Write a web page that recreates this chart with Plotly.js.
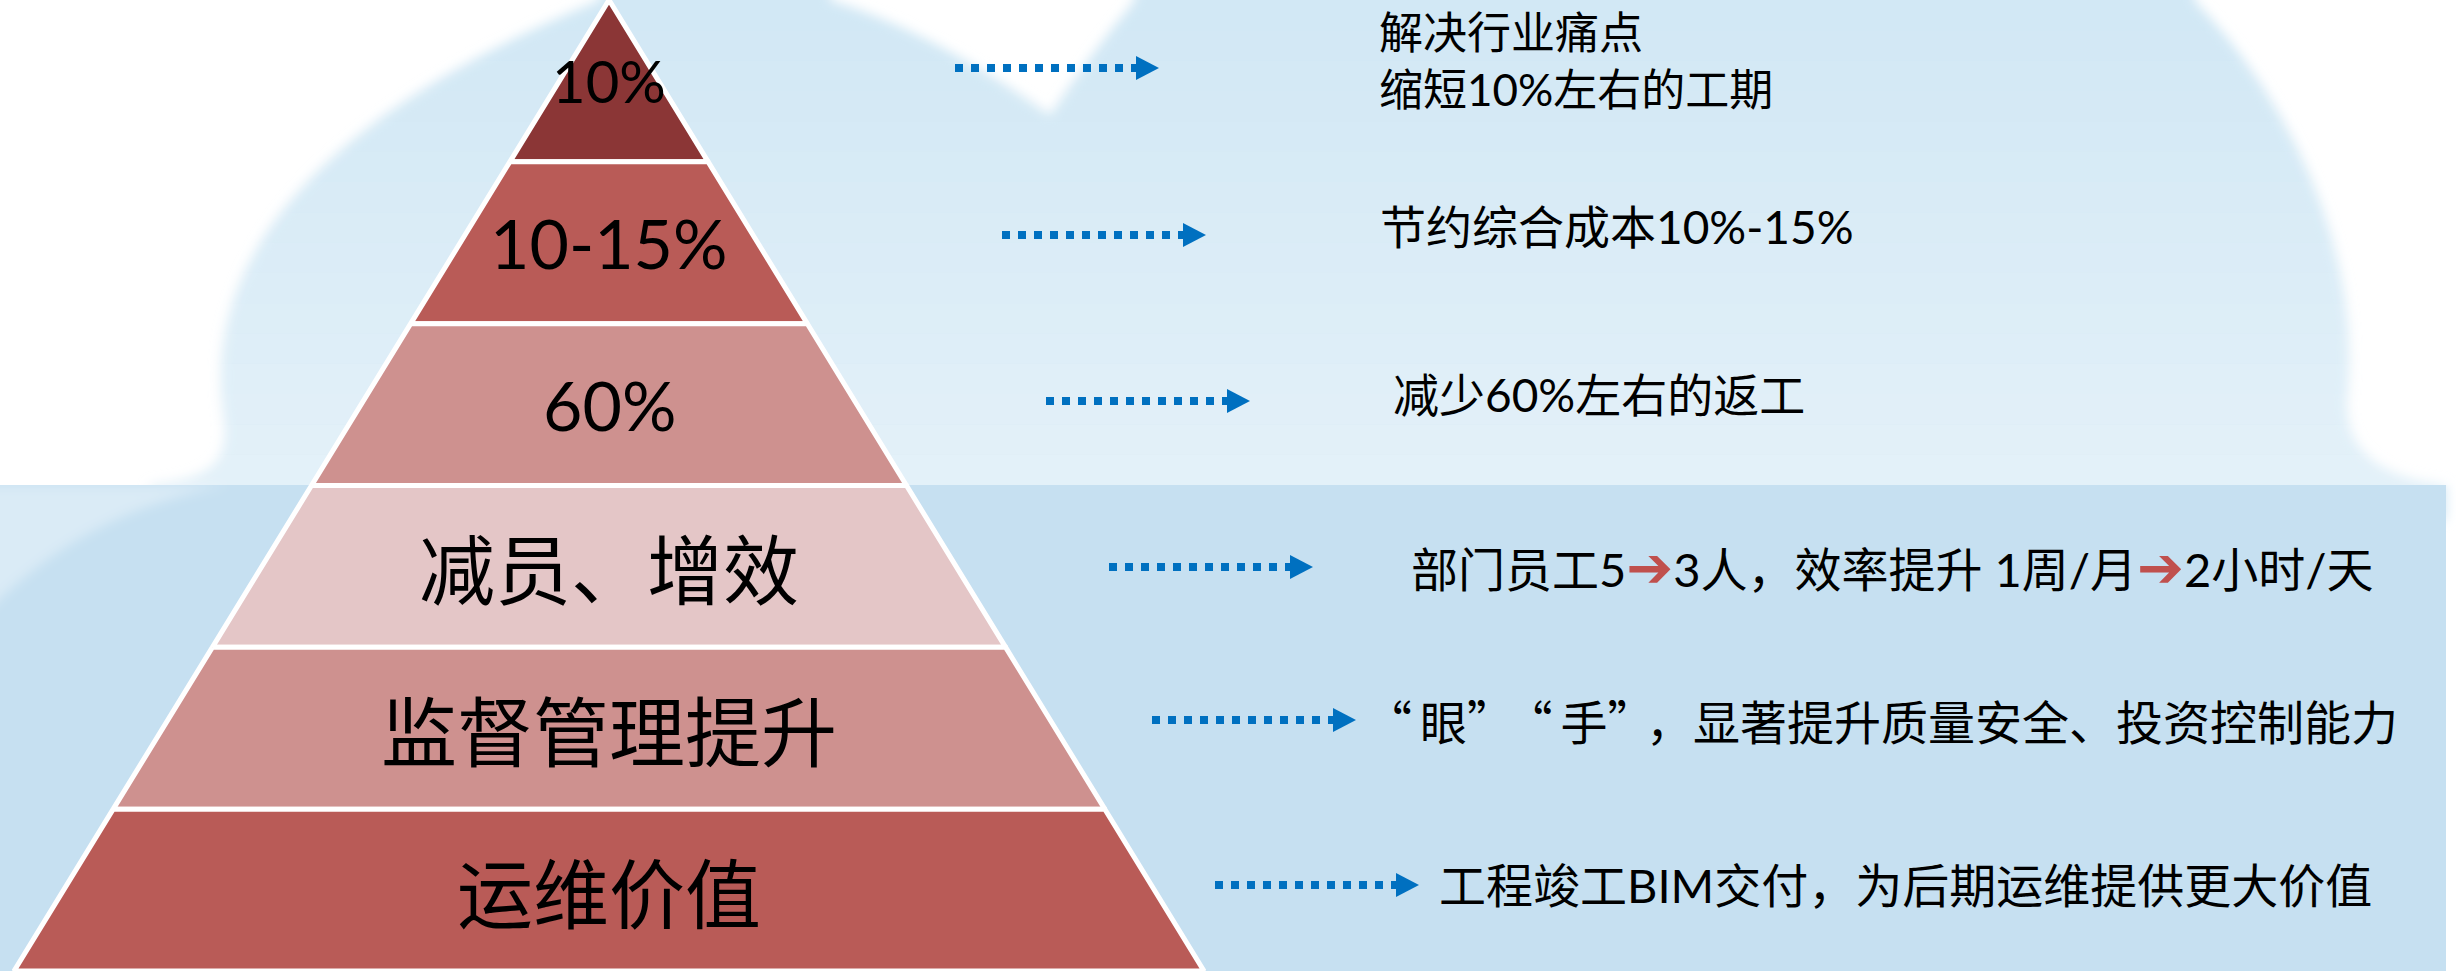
<!DOCTYPE html>
<html>
<head>
<meta charset="utf-8">
<script src="https://cdn.plot.ly/plotly-3.0.1.min.js"></script>
<style>
  html, body { margin: 0; padding: 0; background: #ffffff; overflow: hidden; }
  #chart { width: 2456px; height: 971px; }
</style>
</head>
<body>
<div id="chart"></div>
<script>
// ---------------- data ----------------
const levelLabels = ['10%', '10-15%', '60%', '减员、增效', '监督管理提升', '运维价值'];
const benefitTexts = [
  '解决行业痛点<br>缩短10%左右的工期',
  '节约综合成本10%-15%',
  '减少60%左右的返工',
  '部门员工5→3人，效率提升 1周/月→2小时/天',
  '“眼”“手”，显著提升质量安全、投资控制能力',
  '工程竣工BIM交付，为后期运维提供更大价值'
];

// ---------------- styles ----------------
const levelColors = ['#8B3636', '#B95B57', '#CE918F', '#E4C6C7', '#CE918F', '#B95B57'];
const labelSizes = [58, 68, 68, 76, 76, 76];
const textSizes = [44, 46, 46, 47, 47, 47];
const arrowColor = '#0070C0';
const redArrowColor = '#C0504D';
const LATIN = 'Lato, "Noto Sans CJK SC", sans-serif';
const CJK = '"Noto Sans CJK SC", sans-serif';

// ---------------- layout geometry ----------------
const W = 2456, H = 971;
const apexX = 609, baseHalf = 595;
const arrowStartX = [955, 1002, 1046, 1109, 1152, 1215];
const arrowY = [68, 235, 401, 567, 720, 885];
const textX = [1377, 1378, 1391, 1409, 1363, 1437];
const textY = [60, 226, 394, 567, 719, 885];

const N = levelLabels.length;
const traces = [];
const annotations = [];

// pyramid levels
levelLabels.forEach((lab, i) => {
  const y0 = i * H / N, y1 = (i + 1) * H / N;
  const h0 = baseHalf * y0 / H, h1 = baseHalf * y1 / H;
  traces.push({
    type: 'scatter', mode: 'lines',
    x: [apexX - h0, apexX + h0, apexX + h1, apexX - h1, apexX - h0],
    y: [y0, y0, y1, y1, y0],
    fill: 'toself', fillcolor: levelColors[i],
    line: { color: '#ffffff', width: 5 },
    hoverinfo: 'skip', showlegend: false
  });
  const isCJK = /[\u4e00-\u9fff]/.test(lab);
  annotations.push({
    x: apexX, y: (y0 + y1) / 2, xref: 'x', yref: 'y',
    text: lab, showarrow: false, xanchor: 'center', yanchor: 'middle',
    font: { family: isCJK ? CJK : LATIN, size: labelSizes[i], color: '#000000' }
  });
});

// dotted arrows + benefit texts
benefitTexts.forEach((t, i) => {
  const s = arrowStartX[i], y = arrowY[i];
  traces.push({
    type: 'scatter', mode: 'lines',
    x: [s, s + 184], y: [y, y],
    line: { color: arrowColor, width: 8, dash: 'dot' },
    hoverinfo: 'skip', showlegend: false
  });
  traces.push({
    type: 'scatter', mode: 'lines',
    x: [s + 181, s + 204, s + 181, s + 181], y: [y - 12, y, y + 12, y - 12],
    fill: 'toself', fillcolor: arrowColor,
    line: { color: arrowColor, width: 0 },
    hoverinfo: 'skip', showlegend: false
  });
  const html = t
    .replace(/→/g, '<span style="fill:' + redArrowColor + ';font-family:DejaVu Sans;font-size:56px">➔</span>')
    .replace(/“/g, '<span style="font-family:Noto Sans CJK SC;letter-spacing:8px">“</span>')
    .replace(/”/g, '<span style="font-family:Noto Sans CJK SC;letter-spacing:15px">”</span>');
  annotations.push({
    x: textX[i], y: textY[i], xref: 'x', yref: 'y',
    text: html, showarrow: false, xanchor: 'left', yanchor: 'middle', align: 'left',
    font: { family: LATIN, size: textSizes[i], color: '#000000' }
  });
});

// ---------------- background shapes ----------------
const cloudPath = 'M 150,520 L 150,485 C 215,478 228,460 224,420 C 205,300 260,140 600,0 ' +
  'L 600,-60 L 830,-60 L 830,0 Q 930,30 1050,115 Q 1090,55 1135,0 L 1135,-60 L 2194,-60 L 2194,0 ' +
  'C 2290,100 2360,250 2348,390 C 2340,450 2380,478 2446,485 L 2446,520 Z';
const shapes = [
  { type: 'path', path: cloudPath, xref: 'x', yref: 'y', layer: 'below',
    fillcolor: '#D2E8F5', line: { width: 0 } }
];
const bands = 16;
for (let k = 0; k < bands; k++) {
  shapes.push({ type: 'rect', xref: 'x', yref: 'y', layer: 'below',
    x0: 0, x1: W, y0: 485 * k / bands, y1: 485 * (k + 1) / bands,
    fillcolor: 'rgba(255,255,255,' + (0.38 * k / (bands - 1)).toFixed(3) + ')', line: { width: 0 } });
}
shapes.push({ type: 'rect', xref: 'x', yref: 'y', layer: 'below',
  x0: 0, x1: 2446, y0: 485, y1: H, fillcolor: '#C6E0F1', line: { width: 0 } });
shapes.push({ type: 'path', xref: 'x', yref: 'y', layer: 'below',
  path: 'M -40,485 L 230,485 C 120,505 40,550 -40,640 Z',
  fillcolor: 'rgba(255,255,255,0.35)', line: { width: 0 } });
const softShapeIdx = [0, shapes.length - 1];

const layout = {
  width: W, height: H,
  margin: { l: 0, r: 0, t: 0, b: 0, pad: 0 },
  paper_bgcolor: '#ffffff', plot_bgcolor: '#ffffff',
  xaxis: { range: [0, W], visible: false, fixedrange: true },
  yaxis: { range: [H, 0], visible: false, fixedrange: true },
  showlegend: false,
  shapes: shapes,
  annotations: annotations
};

Plotly.newPlot('chart', traces, layout, { displayModeBar: false, staticPlot: true }).then(gd => {
  // soften the edges of the background cloud (as in the original artwork)
  const NS = 'http://www.w3.org/2000/svg';
  const svg = gd.querySelector('svg.main-svg');
  let defs = svg.querySelector('defs');
  if (!defs) { defs = document.createElementNS(NS, 'defs'); svg.insertBefore(defs, svg.firstChild); }
  const f = document.createElementNS(NS, 'filter');
  f.setAttribute('id', 'softEdge');
  f.setAttribute('x', '-10%'); f.setAttribute('y', '-10%');
  f.setAttribute('width', '120%'); f.setAttribute('height', '120%');
  const b = document.createElementNS(NS, 'feGaussianBlur');
  b.setAttribute('stdDeviation', '6');
  f.appendChild(b);
  defs.appendChild(f);
  gd.querySelectorAll('.shapelayer path').forEach(p => {
    const idx = parseInt(p.getAttribute('data-index'), 10);
    if (softShapeIdx.includes(idx)) {
      // wrap in a group so the blur is applied before the clip
      const g = document.createElementNS(NS, 'g');
      p.parentNode.insertBefore(g, p);
      g.appendChild(p);
      p.setAttribute('filter', 'url(#softEdge)');
    }
  });
});
</script>
</body>
</html>
